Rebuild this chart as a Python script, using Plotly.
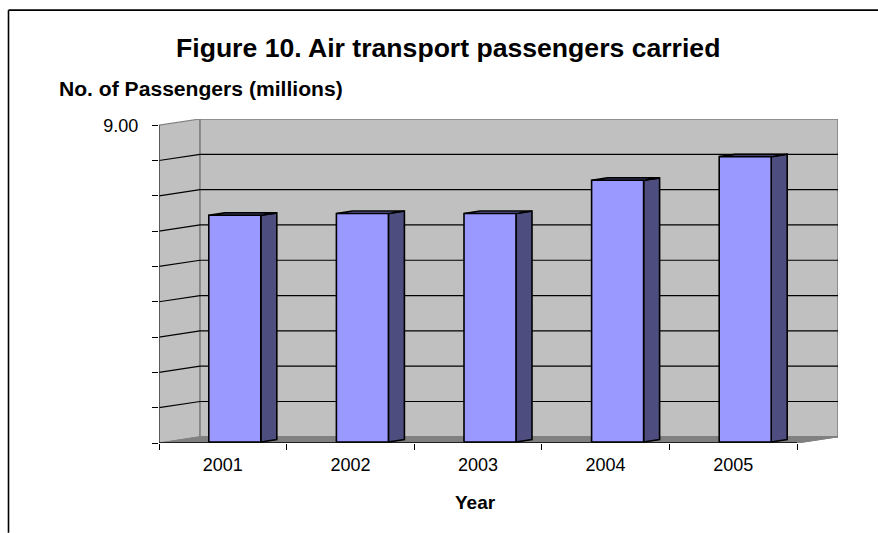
import plotly.graph_objects as go

years = ["2001", "2002", "2003", "2004", "2005"]
passengers = [6.45, 6.50, 6.50, 7.44, 8.11]
y_tick_values = list(range(10))
y_tick_labels = ["", "", "", "", "", "", "", "", "", "9.00"]

W, H = 878, 533
L, R, T, B = 159, 838, 118.5, 443
UNIT_X = (797 - 159) / 5
UNIT_Y = (443 - 124.7) / 9
WALL_DX = 41 / UNIT_X
WALL_DY = 6.2 / UNIT_Y
BAR_W = 52 / UNIT_X
BAR_DX = 16 / UNIT_X
BAR_DY = 2.4 / UNIT_Y
BAR_OFF = 0.5 - BAR_W / 2 + 12 / UNIT_X
BAR_BASE = 1.0 / UNIT_Y

fig = go.Figure()


def poly(xs, ys, fill, line="black", width=1.6):
    fig.add_trace(go.Scatter(
        x=xs, y=ys, mode="lines", fill="toself", fillcolor=fill,
        line=dict(color=line, width=width), hoverinfo="skip", showlegend=False))


def seg(xs, ys, color="black", width=1.0):
    fig.add_trace(go.Scatter(
        x=xs, y=ys, mode="lines", line=dict(color=color, width=width),
        hoverinfo="skip", showlegend=False))


n = len(years)
top = y_tick_values[-1]
poly([0, WALL_DX, WALL_DX, 0, 0], [0, WALL_DY, top + WALL_DY, top, 0], "#c0c0c0", "#808080", 1.2)
poly([WALL_DX, n + WALL_DX, n + WALL_DX, WALL_DX, WALL_DX],
     [WALL_DY, WALL_DY, top + WALL_DY, top + WALL_DY, WALL_DY], "#c0c0c0", "#808080", 1.6)
poly([0, n, n + WALL_DX, WALL_DX, 0], [0, 0, WALL_DY, WALL_DY, 0], "#808080", "#808080", 1.0)
for v in y_tick_values[1:-1]:
    seg([0, WALL_DX, n + WALL_DX], [v, v + WALL_DY, v + WALL_DY], "black", 1.2)
seg([0, 0], [0, top], "#404040", 1.4)
seg([0, n], [0, 0], "black", 1.4)
seg([n, n + WALL_DX], [0, WALL_DY], "#808080", 1.0)
for i, v in enumerate(passengers):
    x0 = i + BAR_OFF
    x1 = x0 + BAR_W
    y0 = BAR_BASE
    poly([x1, x1 + BAR_DX, x1 + BAR_DX, x1, x1],
         [y0, y0 + BAR_DY, v + BAR_DY, v, y0], "#4d4d80")
    poly([x0, x1, x1 + BAR_DX, x0 + BAR_DX, x0],
         [v, v, v + BAR_DY, v + BAR_DY, v], "#7373bf")
    poly([x0, x1, x1, x0, x0], [y0, y0, v, v, y0], "#9999ff")


def px(x):
    return (x - L) / (R - L)


def py(y):
    return (B - y) / (B - T)


fig.update_layout(
    width=W, height=H, autosize=False,
    paper_bgcolor="white", plot_bgcolor="white",
    margin=dict(l=L, r=W - R, t=T, b=H - B, pad=0),
    showlegend=False,
    font=dict(family="Liberation Sans", color="black", size=18),
    xaxis=dict(
        range=[0, n + WALL_DX], tickmode="array",
        tickvals=[i + 0.5 for i in range(n)], ticktext=years,
        ticks="", showgrid=False, zeroline=False, showline=False,
        tickfont=dict(size=18), ticklabelstandoff=9,
        minor=dict(tickmode="array", tickvals=list(range(n + 1)), ticks="outside",
                   ticklen=6, tickwidth=1, tickcolor="black", showgrid=False),
        fixedrange=True),
    yaxis=dict(
        range=[0, top + WALL_DY], tickmode="array",
        tickvals=y_tick_values, ticktext=y_tick_labels,
        ticks="outside", ticklen=6, tickwidth=1, tickcolor="black",
        tickfont=dict(size=18), ticklabelstandoff=10,
        showgrid=False, zeroline=False, showline=False,
        fixedrange=True),
    annotations=[
        dict(text="<b>Figure 10. Air transport passengers carried</b>", xref="paper", yref="paper",
             x=px(447.5), y=py(47), showarrow=False, font=dict(size=26.6), xanchor="center", yanchor="middle"),
        dict(text="<b>No. of Passengers (millions)</b>", xref="paper", yref="paper",
             x=px(57), y=py(88), showarrow=False, font=dict(size=21.1), xanchor="left", yanchor="middle"),
        dict(text="<b>Year</b>", xref="paper", yref="paper",
             x=px(475), y=py(503), showarrow=False, font=dict(size=19), xanchor="center", yanchor="middle"),
    ],
    shapes=[
        dict(type="line", xref="paper", yref="paper", x0=px(8.5), x1=px(8.5), y0=py(533), y1=py(9.5),
             line=dict(color="black", width=1.6)),
        dict(type="line", xref="paper", yref="paper", x0=px(8.5), x1=px(878), y0=py(9.5), y1=py(9.5),
             line=dict(color="black", width=1.6)),
    ],
)

fig.write_html("out.html", config=dict(displayModeBar=False),
               post_script="document.body.style.margin='0';document.body.style.overflow='hidden';")
